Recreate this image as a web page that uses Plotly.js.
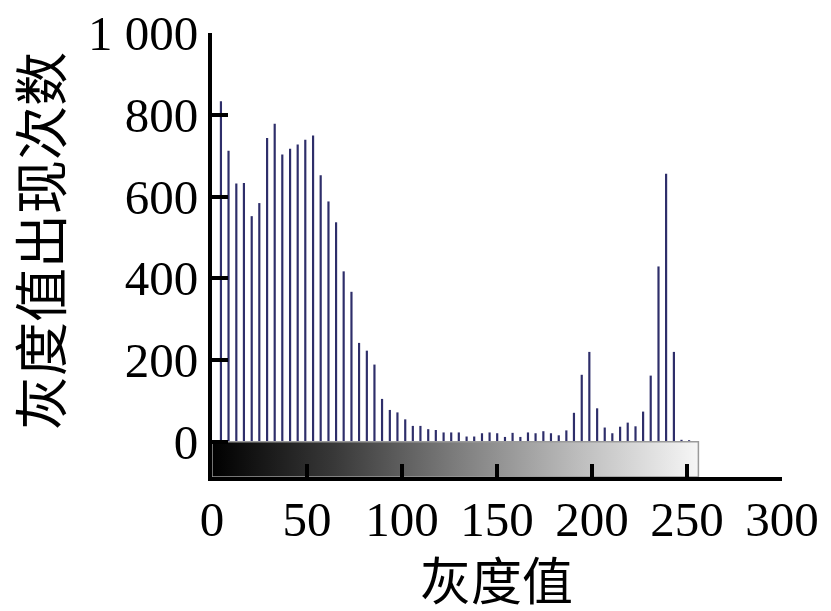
<!DOCTYPE html>
<html>
<head>
<meta charset="utf-8">
<script src="https://cdn.plot.ly/plotly-3.0.1.min.js"></script>
<style>html,body{margin:0;padding:0;background:#fff;}#chart{width:831px;height:611px;}</style>
</head>
<body>
<div id="chart"></div>
<script>
// Gray levels (bin positions)
const grayLevels = [4.7, 8.7, 12.8, 16.8, 20.9, 24.9, 29.0, 33.0, 37.0, 41.1,
  45.1, 49.1, 53.2, 57.2, 61.3, 65.3, 69.3, 73.4, 77.4, 81.5,
  85.5, 89.5, 93.6, 97.6, 101.7, 105.7, 109.7, 113.8, 117.8, 121.9,
  125.9, 129.9, 134.0, 138.0, 142.1, 146.1, 150.1, 154.2, 158.2, 162.3,
  166.3, 170.3, 174.4, 178.4, 182.5, 186.5, 190.5, 194.6, 198.6, 202.7,
  206.7, 210.7, 214.8, 218.8, 222.9, 226.9, 230.9, 235.0, 239.0, 243.1,
  247.1, 251.1];
// Occurrence counts
const counts = [833, 712, 632, 633, 552, 584, 743, 778, 703, 717,
  727, 739, 749, 652, 588, 537, 417, 367, 242, 223,
  189, 105, 78, 72, 55, 39, 39, 31, 29, 23,
  23, 23, 13, 13, 21, 23, 21, 12, 22, 12,
  23, 21, 26, 21, 16, 28, 71, 164, 220, 82,
  35, 21, 37, 47, 38, 74, 162, 429, 656, 220,
  5, 4];
// Gray ramp strip extent (gray level range and its depth below zero)
const rampGray = [0, 256];
const rampDepth = [0, -86];
const xTicks = [0, 50, 100, 150, 200, 250, 300];
const yTicks = [0, 200, 400, 600, 800, 1000];
const yTickText = ['0', '200', '400', '600', '800', '1 000'];
const xTitle = '灰度值';
const yTitle = '灰度值出现次数';

const ramp = {
  type: 'scatter', mode: 'lines',
  x: [rampGray[0], rampGray[1], rampGray[1], rampGray[0], rampGray[0]],
  y: [rampDepth[0], rampDepth[0], rampDepth[1], rampDepth[1], rampDepth[0]],
  fill: 'toself',
  fillgradient: {type: 'horizontal', colorscale: [[0, '#000000'], [0.25, '#383838'], [0.5, '#7c7c7c'], [0.75, '#bcbcbc'], [1, '#f6f6f6']]},
  line: {color: '#9a9a9a', width: 1.5},
  hoverinfo: 'skip', showlegend: false
};
const bars = {
  type: 'bar', x: grayLevels, y: counts, width: 1.15,
  marker: {color: '#2e2e6a', line: {width: 0}},
  showlegend: false
};

const tickFont = {family: 'Liberation Serif, Times New Roman, serif', size: 49, color: '#000'};
const cjkFont = {family: 'Noto Sans CJK SC, sans-serif', size: 54, color: '#000'};
const xTitleFont = {family: 'Noto Sans CJK SC, sans-serif', size: 51, color: '#000'};

Plotly.newPlot('chart', [ramp, bars], {
  width: 831, height: 611,
  margin: {l: 212, r: 49, t: 33, b: 134},
  paper_bgcolor: '#fff', plot_bgcolor: '#fff',
  showlegend: false,
  xaxis: {
    range: [0, 300], tickvals: xTicks, ticks: 'inside', ticklen: 13, tickwidth: 4, tickcolor: '#000',
    showline: true, linewidth: 4, linecolor: '#000', showgrid: false, zeroline: false,
    tickfont: tickFont, automargin: false, ticklabelstandoff: -4
  },
  yaxis: {
    range: [-86, 1000], tickvals: yTicks, ticktext: yTickText, ticks: 'inside', ticklen: 16, tickwidth: 4, tickcolor: '#000',
    showline: true, linewidth: 4, linecolor: '#000', showgrid: false, zeroline: false,
    tickfont: tickFont, automargin: false
  },
  annotations: [
    {text: xTitle, xref: 'paper', yref: 'paper', x: 0.4985, y: 0, yshift: -101,
     xanchor: 'center', yanchor: 'middle', showarrow: false, font: xTitleFont},
    {text: yTitle, xref: 'paper', yref: 'paper', x: 0, xshift: -174, y: 0.5315,
     xanchor: 'center', yanchor: 'middle', textangle: -90, showarrow: false, font: cjkFont}
  ]
}, {displayModeBar: false, staticPlot: true});
</script>
</body>
</html>
